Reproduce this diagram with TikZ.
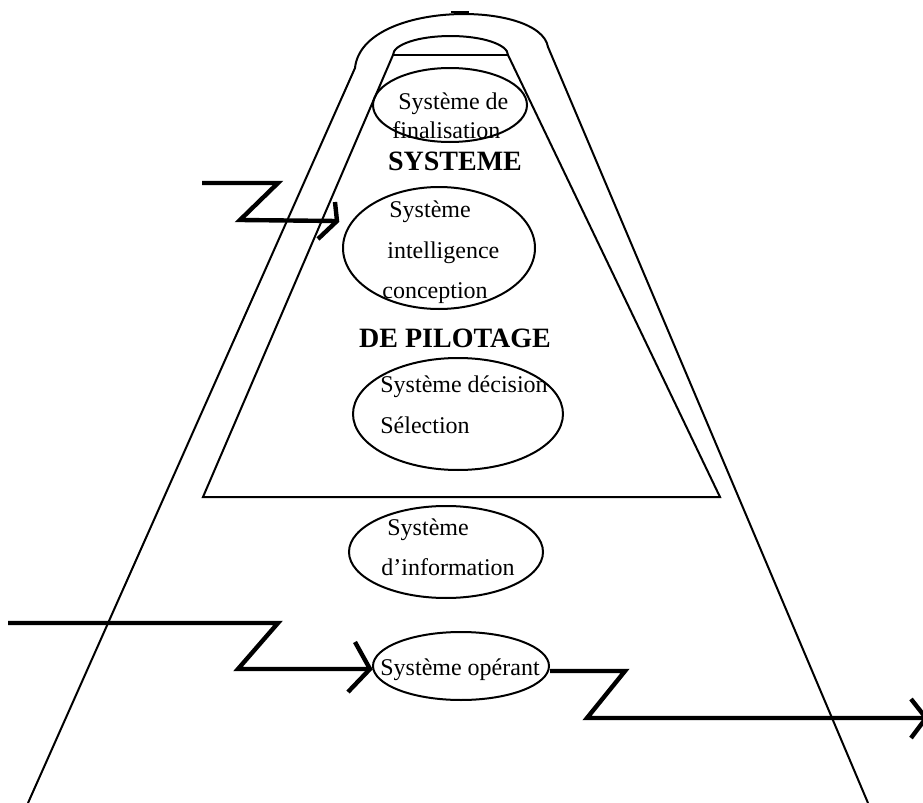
\documentclass[tikz,border=0pt]{standalone}
\usepackage{fontspec}
\setmainfont{Liberation Serif}
\usetikzlibrary{shapes.geometric,calc}
\begin{document}
\begin{tikzpicture}[x=0.5pt,y=-0.5pt,
  thinline/.style={line width=1pt},
  flow/.style={line width=2.2pt, line join=miter},
  sys/.style={ellipse, draw, line width=1pt, inner sep=0pt},
  lbl/.style={anchor=base west, font=\fontsize{12}{14}\selectfont, inner sep=0pt},
  big/.style={anchor=base, font=\fontsize{14}{16}\selectfont\bfseries, inner sep=0pt}]
\useasboundingbox (0,0) rectangle (923,803);

% outer cone
\draw[thinline] (28,803) -- (355,68) .. controls (362,0) and (540,0) .. (548,47) -- (868,803);
\draw[line width=1.2pt] (451,12) -- (469,12);

% inner cap and trapezoid
\draw[thinline] (393,55) arc[start angle=180, end angle=360, x radius=57.5, y radius=19];
\draw[thinline] (393,55) -- (508,55);
\draw[thinline] (393,55) -- (203,497) -- (720,497) -- (508,55);

% ellipses
\node[sys, minimum width=77pt, minimum height=37pt] (e1) at (450,105) {};
\node[sys, minimum width=96pt, minimum height=61pt] (e2) at (439,248) {};
\node[sys, minimum width=105pt, minimum height=56pt] (e3) at (458,414) {};
\node[sys, minimum width=97pt, minimum height=46pt] (e4) at (446,552) {};
\node[sys, minimum width=88pt, minimum height=34pt] (e5) at (461,666) {};

% texts
\node[lbl] (t1a) at (398,110) {Système de};
\node[lbl] (t1b) at (392,138) {finalisation};
\node[big] (s1) at (455,170) {SYSTEME};
\node[lbl] (t2a) at (389,217) {Système};
\node[lbl] (t2b) at (387,258) {intelligence};
\node[lbl] (t2c) at (382,298) {conception};
\node[big] (s2) at (455,347) {DE PILOTAGE};
\node[lbl] (t3a) at (380,392) {Système décision};
\node[lbl] (t3b) at (380,433) {Sélection};
\node[lbl] (t4a) at (387,535) {Système};
\node[lbl] (t4b) at (381,575) {d’information};
\node[lbl] (t5) at (380,675) {Système opérant};

% arrows
\coordinate (a1s) at (202,183);
\coordinate (a1b) at (278,183);
\coordinate (a1c) at (240,220);
\coordinate (a1t) at (337,221);
\draw[flow] (a1s) -- (a1b) -- (a1c) -- (a1t);
\draw[flow] (335,202) -- (a1t) -- (318,239);

\coordinate (a2s) at (8,623);
\coordinate (a2b) at (278,623);
\coordinate (a2c) at (238,669);
\coordinate (a2t) at (370,669);
\draw[flow] (a2s) -- (a2b) -- (a2c) -- (a2t);
\draw[flow] (355,642) -- (a2t) -- (348,692);

\coordinate (a3b) at (625,671);
\coordinate (a3c) at (587,718);
\coordinate (a3t) at (926,718);
\draw[flow] (e5.east |- a3b) -- (a3b) -- (a3c) -- (a3t);
\draw[flow] (911,699) -- (a3t) -- (911,738);
\end{tikzpicture}
\end{document}
